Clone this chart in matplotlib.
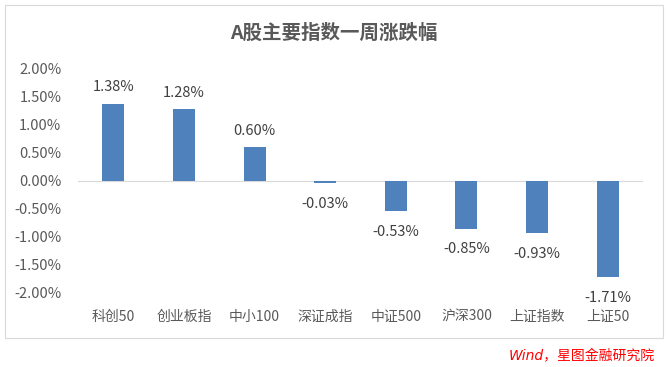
import matplotlib
matplotlib.use("Agg")
import matplotlib.pyplot as plt
from matplotlib.patches import Rectangle

plt.rcParams['font.family'] = ['Noto Sans CJK SC', 'DejaVu Sans']

categories = ["科创50", "创业板指", "中小100", "深证成指", "中证500", "沪深300", "上证指数", "上证50"]
values = [1.38, 1.28, 0.60, -0.03, -0.53, -0.85, -0.93, -1.71]
yticks = [-2.0, -1.5, -1.0, -0.5, 0.0, 0.5, 1.0, 1.5, 2.0]
title = "A股主要指数一周涨跌幅"
source = "Wind，星图金融研究院"

W, H = 669, 367
fig = plt.figure(figsize=(W/100, H/100), dpi=100)
fig.patch.set_facecolor("white")
fig.add_artist(Rectangle((5/W, 1-338/H), 658/W, 333/H, transform=fig.transFigure,
                         fill=False, edgecolor="#D9D9D9", linewidth=0.8))

ax = fig.add_axes([78/W, 1-293/H, 565/W, 224/H])
x = list(range(len(categories)))
ax.bar(x, values, width=0.31, color="#4F81BD", zorder=2)
ax.set_xlim(-0.5, len(categories)-0.5)
ax.set_ylim(-2.0, 2.0)
ax.set_yticks(yticks)
ax.set_yticklabels([f"{v:.2f}%" for v in yticks], fontsize=10.5, color="#595959")
ax.set_xticks(x)
ax.set_xticklabels(categories, fontsize=10, color="#595959")
for s in ax.spines.values():
    s.set_visible(False)
ax.tick_params(axis="y", length=0, pad=12)
ax.tick_params(axis="x", length=0, pad=12)
ax.axhline(0, color="#D9D9D9", linewidth=0.8, zorder=1)

for xi, v in zip(x, values):
    if v >= 0:
        ax.annotate(f"{v:.2f}%", (xi, v), xytext=(0, 7), textcoords="offset points",
                    ha="center", va="bottom", fontsize=10.5, color="#404040")
    else:
        ax.annotate(f"{v:.2f}%", (xi, v), xytext=(0, -10), textcoords="offset points",
                    ha="center", va="top", fontsize=10.5, color="#404040")

fig.text(334/W, 1-33/H, title, ha="center", va="center", fontsize=14,
         fontweight="bold", color="#595959")
fig.text(655/W, 1-356/H, source, ha="right", va="center", fontsize=10,
         color="#FF0000", style="italic", family=['DejaVu Sans', 'Noto Sans CJK SC'])

fig.savefig("out.png", dpi=100)
